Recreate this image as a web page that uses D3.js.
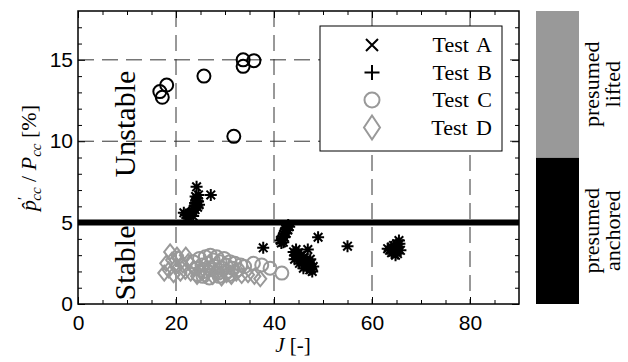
<!DOCTYPE html>
<html>
<head>
<meta charset="utf-8">
<script src="https://cdn.jsdelivr.net/npm/d3@7"></script>
<style>
  body { margin: 0; background: #fff; }
  svg { display: block; }
  .tick text { font-family: "Liberation Sans", Arial, sans-serif; font-size: 21px; fill: #000; }
  .tick line { stroke: #000; stroke-width: 1; }
  .domain { display: none; }
  .serif { font-family: "Liberation Serif", "Times New Roman", serif; fill: #000; }
</style>
</head>
<body>
<script>
// axis ticks and reference lines
var xMajor = [0, 20, 40, 60, 80],
    xMinor = d3.range(5, 90, 5).filter(function(d) { return d % 20 != 0; }),
    yMajor = [0, 5, 10, 15],
    yMinor = d3.range(1, 18).filter(function(d) { return d % 5 != 0; }),
    gridX = [20, 40, 60, 80],
    gridY = [10, 15],
    threshold = 5;

// asterisks: Test A (x) and Test B (+) markers overlap, presumed anchored
var testA = [
  [21.6,5.6],[22.0,5.5],[22.4,5.45],[22.8,5.5],[23.1,5.6],[23.4,5.7],[23.6,5.85],[23.8,6.0],
  [23.9,6.2],[24.1,6.35],[24.3,6.5],[24.5,6.3],[24.2,6.05],[23.9,5.8],[24.4,5.95],[23.5,5.4],
  [22.6,5.3],[24.0,6.6],[24.6,6.7],[24.2,7.2],[27.1,6.7],[24.7,6.1],
  [41.3,3.9],[41.6,4.0],[41.8,4.15],[42.0,4.3],[42.2,4.45],[42.4,4.6],[42.6,4.7],[42.9,4.85],
  [41.5,3.75],[42.1,4.1],[42.5,4.35],[41.9,3.8],[42.8,4.55],[43.1,4.75],
  [37.8,3.45]
];
var testB = [
  [44.0,3.2],[44.3,3.0],[44.6,3.1],[44.8,2.85],[45.1,2.9],[45.3,2.7],[45.6,2.75],[45.8,2.55],
  [46.1,2.6],[46.3,2.4],[46.6,2.45],[46.8,2.25],[47.1,2.3],[47.3,2.1],[47.6,2.15],[47.8,2.0],
  [44.5,3.35],[45.0,3.15],[45.5,3.0],[46.0,2.85],[46.5,2.7],[47.0,2.55],[47.5,2.45],[45.2,2.5],
  [46.0,2.2],[44.2,2.75],[46.9,3.35],[47.4,2.75],[48.0,2.3],[49.0,4.1],
  [55.0,3.55],
  [63.2,3.4],[63.6,3.3],[64.0,3.5],[64.3,3.2],[64.6,3.4],[65.0,3.3],[65.3,3.5],[65.6,3.7],
  [65.2,3.1],[64.8,3.0],[64.4,3.6],[65.8,3.3],[65.5,3.9],[64.0,3.15],[65.0,3.7]
];
// Test C, split by flame state
var testCAnchored = [
  [16.7,13.05],[17.2,12.7],[18.1,13.45],[25.7,14.0],[33.7,15.0],[33.7,14.6],[35.9,14.95],[31.8,10.3]
];
var testCLifted = [
  [23.5,2.6],[24.2,2.2],[24.8,2.8],[25.3,2.4],[25.8,2.0],[26.0,2.9],[26.5,2.5],[27.0,3.0],
  [27.2,2.1],[27.6,2.7],[28.0,2.3],[28.3,2.9],[28.6,1.9],[29.0,2.6],[29.4,2.2],[29.8,2.8],
  [30.2,2.4],[30.5,2.0],[31.0,2.6],[31.5,2.2],[32.0,2.5],[32.6,2.1],[33.2,2.4],[34.0,2.3],
  [35.8,2.5],[37.5,2.4],[39.2,2.2],[41.6,1.9],[25.5,1.7],[26.8,1.6],[28.8,1.7],[24.5,1.8],
  [30.8,1.8]
];
var testD = [
  [17.6,1.9],[18.0,2.5],[18.5,2.1],[18.8,3.2],[19.2,2.7],[19.5,1.8],[20.0,2.3],[20.5,2.8],
  [20.9,1.9],[21.4,2.4],[21.9,2.0],[22.5,2.6],[23.0,1.9],[23.6,2.2],[24.3,1.7],[25.0,2.0],
  [25.8,1.8],[26.6,2.1],[27.5,1.7],[28.4,1.9],[29.3,1.6],[30.3,1.8],[31.3,1.7],[32.3,1.9],
  [33.4,1.75],[34.7,1.8],[36.0,1.7],[37.2,1.55],[20.2,3.0],[22.0,3.0]
];

var legendNames = ["Test A", "Test B", "Test C", "Test D"],
    stateNames = [["presumed", "anchored"], ["presumed", "lifted"]];

var gray = "#999999";
var pLeft = 78, pRight = 519, pTop = 11, pBottom = 304;

var x = d3.scaleLinear().domain([0, 90]).range([pLeft, pRight]);
var y = d3.scaleLinear().domain([0, 18]).range([pBottom, pTop]);

var svg = d3.select("body").append("svg")
    .attr("width", 628)
    .attr("height", 362);

svg.append("rect").attr("width", 628).attr("height", 362).attr("fill", "#fff");

// dashed grid
svg.selectAll(".gx").data(gridX).enter().append("line")
    .attr("x1", x).attr("x2", x)
    .attr("y1", pTop).attr("y2", pBottom)
    .attr("stroke", "#333").attr("stroke-dasharray", "16,8");
svg.selectAll(".gy").data(gridY).enter().append("line")
    .attr("x1", pLeft).attr("x2", pRight)
    .attr("y1", y).attr("y2", y)
    .attr("stroke", "#333").attr("stroke-dasharray", "16,8");

// stability threshold
svg.append("line")
    .attr("x1", pLeft).attr("x2", pRight)
    .attr("y1", y(threshold)).attr("y2", y(threshold))
    .attr("stroke", "#000").attr("stroke-width", 6);

// axes, ticks inward on all sides
function addAxis(axis, tx, ty) {
  svg.append("g").attr("transform", "translate(" + tx + "," + ty + ")").call(axis);
}
addAxis(d3.axisBottom(x).tickValues(xMajor).tickSizeInner(-7).tickSizeOuter(0).tickPadding(11), 0, pBottom);
addAxis(d3.axisBottom(x).tickValues(xMinor).tickSizeInner(-4).tickSizeOuter(0).tickFormat(""), 0, pBottom);
addAxis(d3.axisTop(x).tickValues(xMajor).tickSizeInner(-7).tickSizeOuter(0).tickFormat(""), 0, pTop);
addAxis(d3.axisTop(x).tickValues(xMinor).tickSizeInner(-4).tickSizeOuter(0).tickFormat(""), 0, pTop);
addAxis(d3.axisLeft(y).tickValues(yMajor).tickSizeInner(-7).tickSizeOuter(0).tickPadding(5), pLeft, 0);
addAxis(d3.axisLeft(y).tickValues(yMinor).tickSizeInner(-4).tickSizeOuter(0).tickFormat(""), pLeft, 0);
addAxis(d3.axisRight(y).tickValues(yMajor).tickSizeInner(-7).tickSizeOuter(0).tickFormat(""), pRight, 0);
addAxis(d3.axisRight(y).tickValues(yMinor).tickSizeInner(-4).tickSizeOuter(0).tickFormat(""), pRight, 0);

// region labels
svg.append("text").attr("class", "serif")
    .attr("transform", "translate(135,124) rotate(-90)")
    .attr("text-anchor", "middle").style("font-size", "30px").text("Unstable");
svg.append("text").attr("class", "serif")
    .attr("transform", "translate(135,263) rotate(-90)")
    .attr("text-anchor", "middle").style("font-size", "30px").text("Stable");

// markers
function cross(s) { return "M" + -s + "," + -s + "L" + s + "," + s + "M" + -s + "," + s + "L" + s + "," + -s; }
function plus(s) { return "M" + -s + ",0H" + s + "M0," + -s + "V" + s; }
function diamond(w, h) { return "M0," + -h + "L" + w + ",0L0," + h + "L" + -w + ",0Z"; }

var marks = svg.append("g").attr("fill", "none");

marks.selectAll(".d").data(testD).enter().append("path")
    .attr("transform", function(d) { return "translate(" + x(d[0]) + "," + y(d[1]) + ")"; })
    .attr("d", diamond(6, 7.5)).attr("stroke", gray).attr("stroke-width", 2);

marks.selectAll(".cl").data(testCLifted).enter().append("circle")
    .attr("cx", function(d) { return x(d[0]); }).attr("cy", function(d) { return y(d[1]); })
    .attr("r", 6.5).attr("stroke", gray).attr("stroke-width", 2);

marks.selectAll(".ca").data(testCAnchored).enter().append("circle")
    .attr("cx", function(d) { return x(d[0]); }).attr("cy", function(d) { return y(d[1]); })
    .attr("r", 6.5).attr("stroke", "#000").attr("stroke-width", 2);

[testA, testB].forEach(function(set) {
  marks.selectAll(null).data(set).enter().append("path")
      .attr("transform", function(d) { return "translate(" + x(d[0]) + "," + y(d[1]) + ")"; })
      .attr("d", cross(4.3) + plus(6)).attr("stroke", "#000").attr("stroke-width", 2);
});

// frame
svg.append("rect")
    .attr("x", pLeft).attr("y", pTop)
    .attr("width", pRight - pLeft).attr("height", pBottom - pTop)
    .attr("fill", "none").attr("stroke", "#000").attr("stroke-width", 1.5);

// legend
var lg = svg.append("g").attr("transform", "translate(320,26)");
lg.append("rect").attr("width", 182).attr("height", 125)
    .attr("fill", "#fff").attr("stroke", "#000").attr("stroke-width", 1);
var rows = lg.selectAll(".row").data(legendNames).enter().append("g")
    .attr("transform", function(d, i) { return "translate(0," + (19 + i * 27.5) + ")"; });
rows.append("text").attr("class", "serif")
    .attr("x", 172).attr("dy", "0.33em").attr("text-anchor", "end")
    .style("font-size", "22px").style("word-spacing", "3px")
    .text(function(d) { return d; });
rows.each(function(d, i) {
  var g = d3.select(this).append("g").attr("transform", "translate(52,0)").attr("fill", "none");
  if (i == 0) g.append("path").attr("d", cross(6)).attr("stroke", "#000").attr("stroke-width", 2);
  if (i == 1) g.append("path").attr("d", plus(7.5)).attr("stroke", "#000").attr("stroke-width", 2);
  if (i == 2) g.append("circle").attr("r", 7.5).attr("stroke", gray).attr("stroke-width", 2);
  if (i == 3) g.append("path").attr("d", diamond(8, 12)).attr("stroke", gray).attr("stroke-width", 2);
});

// state colour bar
var c = d3.scaleLinear().domain([0, 2]).range([pBottom, pTop]);
var bar = svg.selectAll(".bar").data(stateNames).enter().append("g");
bar.append("rect")
    .attr("x", 536).attr("width", 43)
    .attr("y", function(d, i) { return c(i + 1); })
    .attr("height", function(d, i) { return c(i) - c(i + 1); })
    .attr("fill", function(d, i) { return i == 0 ? "#000" : gray; });
bar.append("text").attr("class", "serif")
    .attr("transform", function(d, i) { return "translate(599," + (c(i) + c(i + 1)) / 2 + ") rotate(-90)"; })
    .attr("text-anchor", "middle").style("font-size", "22px")
    .selectAll("tspan").data(function(d) { return d; }).enter().append("tspan")
    .attr("x", 0).attr("dy", function(d, i) { return i ? 21 : 0; })
    .text(function(d) { return d; });

// axis titles
var xt = svg.append("text").attr("class", "serif")
    .attr("x", 293).attr("y", 352).attr("text-anchor", "middle").style("font-size", "21px");
xt.append("tspan").style("font-style", "italic").text("J");
xt.append("tspan").text(" [-]");

var yt = svg.append("text").attr("class", "serif")
    .attr("transform", "translate(36,158) rotate(-90)")
    .attr("text-anchor", "middle").style("font-size", "22px");
yt.append("tspan").style("font-style", "italic").text("p\u0302");
yt.append("tspan").attr("dy", -8).style("font-size", "15px").text("\u2032");
yt.append("tspan").attr("dx", -4).attr("dy", 13).style("font-size", "15px").style("font-style", "italic").text("cc");
yt.append("tspan").attr("dy", -5).text(" / ");
yt.append("tspan").style("font-style", "italic").text("P");
yt.append("tspan").attr("dy", 5).style("font-size", "15px").style("font-style", "italic").text("cc");
yt.append("tspan").attr("dy", -5).text(" [%]");
</script>
</body>
</html>
